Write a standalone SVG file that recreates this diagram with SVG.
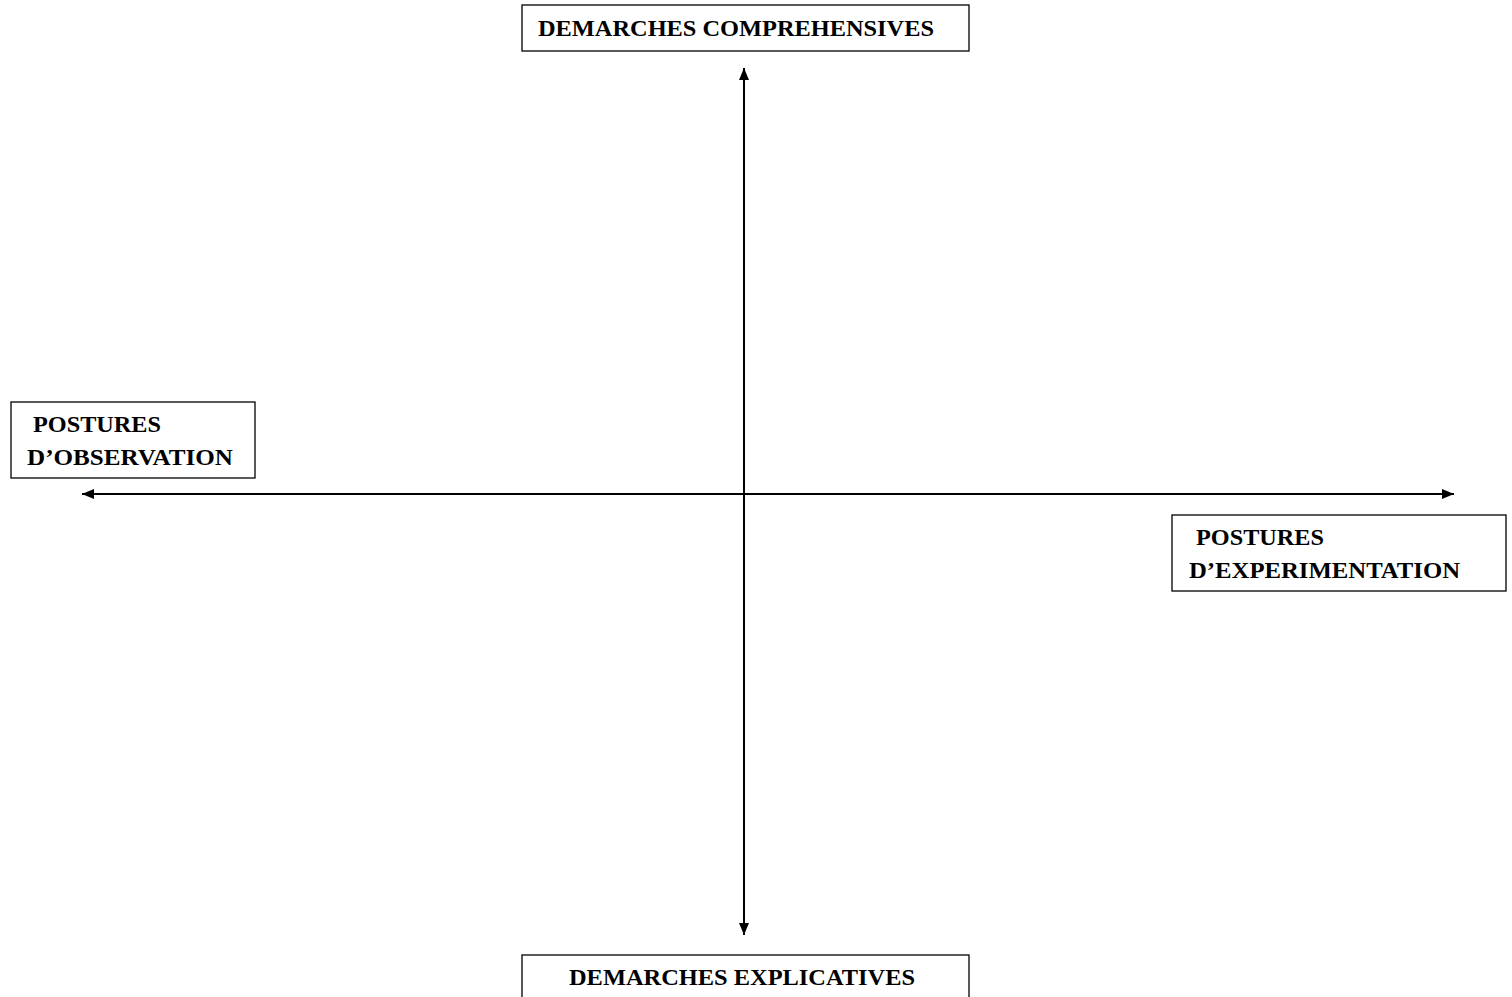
<svg xmlns="http://www.w3.org/2000/svg" width="1512" height="997" viewBox="0 0 1512 997">
<style>
.box{fill:#fff;stroke:#000;stroke-width:1.3}
.t{font-family:"Liberation Serif","Times New Roman",serif;font-weight:bold;font-size:24px;fill:#000}
.ax{stroke:#000;stroke-width:2;fill:none}
</style>
<defs>
<marker id="ah" viewBox="0 0 12 12" refX="12" refY="6" markerWidth="12" markerHeight="12" markerUnits="userSpaceOnUse" orient="auto-start-reverse">
<path d="M0,1 L12,6 L0,11 Z" fill="#000"/>
</marker>
</defs>
<rect width="1512" height="997" fill="#fff"/>
<g id="connectors">
<line class="ax" x1="744" y1="68" x2="744" y2="935" marker-start="url(#ah)" marker-end="url(#ah)"/>
<line class="ax" x1="82" y1="494" x2="1454" y2="494" marker-start="url(#ah)" marker-end="url(#ah)"/>
</g>
<g id="top">
<rect class="box" x="522" y="5" width="447" height="46"/>
<text class="t" x="538" y="36" textLength="396" lengthAdjust="spacingAndGlyphs">DEMARCHES COMPREHENSIVES</text>
</g>
<g id="left">
<rect class="box" x="11" y="402" width="244" height="76"/>
<text class="t" x="33" y="432" textLength="128" lengthAdjust="spacingAndGlyphs">POSTURES</text>
<text class="t" x="27" y="465" textLength="206" lengthAdjust="spacingAndGlyphs">D’OBSERVATION</text>
</g>
<g id="right">
<rect class="box" x="1172" y="515" width="334" height="76"/>
<text class="t" x="1196" y="545" textLength="128" lengthAdjust="spacingAndGlyphs">POSTURES</text>
<text class="t" x="1189" y="578" textLength="271" lengthAdjust="spacingAndGlyphs">D’EXPERIMENTATION</text>
</g>
<g id="bottom">
<rect class="box" x="522" y="955" width="447" height="60"/>
<text class="t" x="569" y="985" textLength="346" lengthAdjust="spacingAndGlyphs">DEMARCHES EXPLICATIVES</text>
</g>
</svg>
